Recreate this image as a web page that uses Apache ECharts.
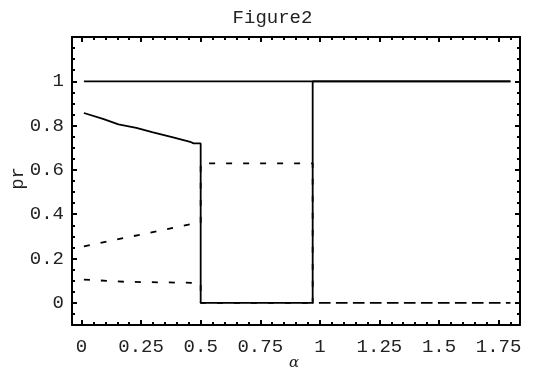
<!DOCTYPE html>
<html>
<head>
<meta charset="utf-8">
<script src="https://cdn.jsdelivr.net/npm/echarts@6/dist/echarts.min.js"></script>
<style>
  html, body { margin: 0; padding: 0; background: #fff; }
  #chart { width: 545px; height: 374px; }
</style>
</head>
<body>
<div id="chart"></div>
<script>
// axis ticks
var xTicks = [0, 0.25, 0.5, 0.75, 1, 1.25, 1.5, 1.75];
var yTicks = [0, 0.2, 0.4, 0.6, 0.8, 1];

// curves (alpha, pr)
var alphaA = [0.01, 1.8];
var prA = [1, 1];

var alphaB = [0.01, 0.09, 0.155, 0.23, 0.30, 0.38, 0.46, 0.47, 0.5, 0.5, 0.97, 0.97, 1.8];
var prB = [0.857, 0.83, 0.806, 0.79, 0.77, 0.748, 0.725, 0.72, 0.72, 0, 0, 1, 1];

var alphaC = [0.01, 0.49, 0.5, 0.5, 0.97, 0.97, 1.8];
var prC = [0.255, 0.362, 0.362, 0.63, 0.63, 0, 0];

var alphaD = [0.01, 0.18, 0.49, 0.5, 0.5, 1.8];
var prD = [0.105, 0.095, 0.09, 0.09, 0, 0];

function pairs(xs, ys) {
  return xs.map(function (x, i) { return [x, ys[i]]; });
}

// minor tick positions every 0.05
function minors(lo, hi) {
  var out = [];
  for (var k = Math.ceil(lo / 0.05); k * 0.05 <= hi + 1e-9; k++) out.push(+(k * 0.05).toFixed(2));
  return out;
}

var chart = echarts.init(document.getElementById('chart'));
var font = '"Liberation Mono", "DejaVu Sans Mono", monospace';
var xMin = -0.04, xMax = 1.84, yMin = -0.1, yMax = 1.2;

function xAx(pos, ticks, len, showLabel, showLine) {
  return {
    type: 'value', position: pos, min: xMin, max: xMax,
    axisLine: { show: showLine, onZero: false, lineStyle: { color: '#000', width: 2 } },
    splitLine: { show: false },
    axisTick: { show: true, inside: true, length: len, customValues: ticks, lineStyle: { color: '#000', width: 2 } },
    axisLabel: { show: showLabel, customValues: ticks, color: '#222', fontFamily: font, fontSize: 19, margin: 12 }
  };
}
function yAx(pos, ticks, len, showLabel, showLine) {
  return {
    type: 'value', position: pos, min: yMin, max: yMax,
    axisLine: { show: showLine, onZero: false, lineStyle: { color: '#000', width: 2 } },
    splitLine: { show: false },
    axisTick: { show: true, inside: true, length: len, customValues: ticks, lineStyle: { color: '#000', width: 2 } },
    axisLabel: { show: showLabel, customValues: ticks, color: '#222', fontFamily: font, fontSize: 19, margin: 8 }
  };
}

var line = { color: '#000', width: 1.8 };
var dash = { color: '#000', width: 1.8, type: [6, 11] };

chart.setOption({
  animation: false,
  backgroundColor: '#fff',
  title: {
    text: 'Figure2', left: 'center', top: 3,
    textStyle: { fontFamily: font, fontSize: 19, fontWeight: 'normal', color: '#222' }
  },
  grid: { left: 72, top: 37, right: 25, bottom: 49 },
  xAxis: [
    xAx('bottom', xTicks, 5, true, true),
    xAx('bottom', minors(xMin, xMax), 3, false, false),
    xAx('top', xTicks, 5, false, true),
    xAx('top', minors(xMin, xMax), 3, false, false)
  ],
  yAxis: [
    yAx('left', yTicks, 5, true, true),
    yAx('left', minors(yMin, yMax), 3, false, false),
    yAx('right', yTicks, 5, false, true),
    yAx('right', minors(yMin, yMax), 3, false, false)
  ],
  graphic: [
    { type: 'text', left: 8, top: 167, rotation: Math.PI / 2, style: { text: 'pr', font: '19px ' + font, fill: '#222' } },
    { type: 'text', left: 289, top: 356, style: { text: 'α', font: 'italic 15px "DejaVu Serif", serif', fill: '#222' } }
  ],
  series: [
    { type: 'line', data: pairs(alphaD, prD), showSymbol: false, lineStyle: dash },
    { type: 'line', data: pairs(alphaC, prC), showSymbol: false, lineStyle: dash },
    { type: 'line', data: pairs(alphaA, prA), showSymbol: false, lineStyle: line },
    { type: 'line', data: pairs(alphaB, prB), showSymbol: false, lineStyle: line }
  ]
});
</script>
</body>
</html>
